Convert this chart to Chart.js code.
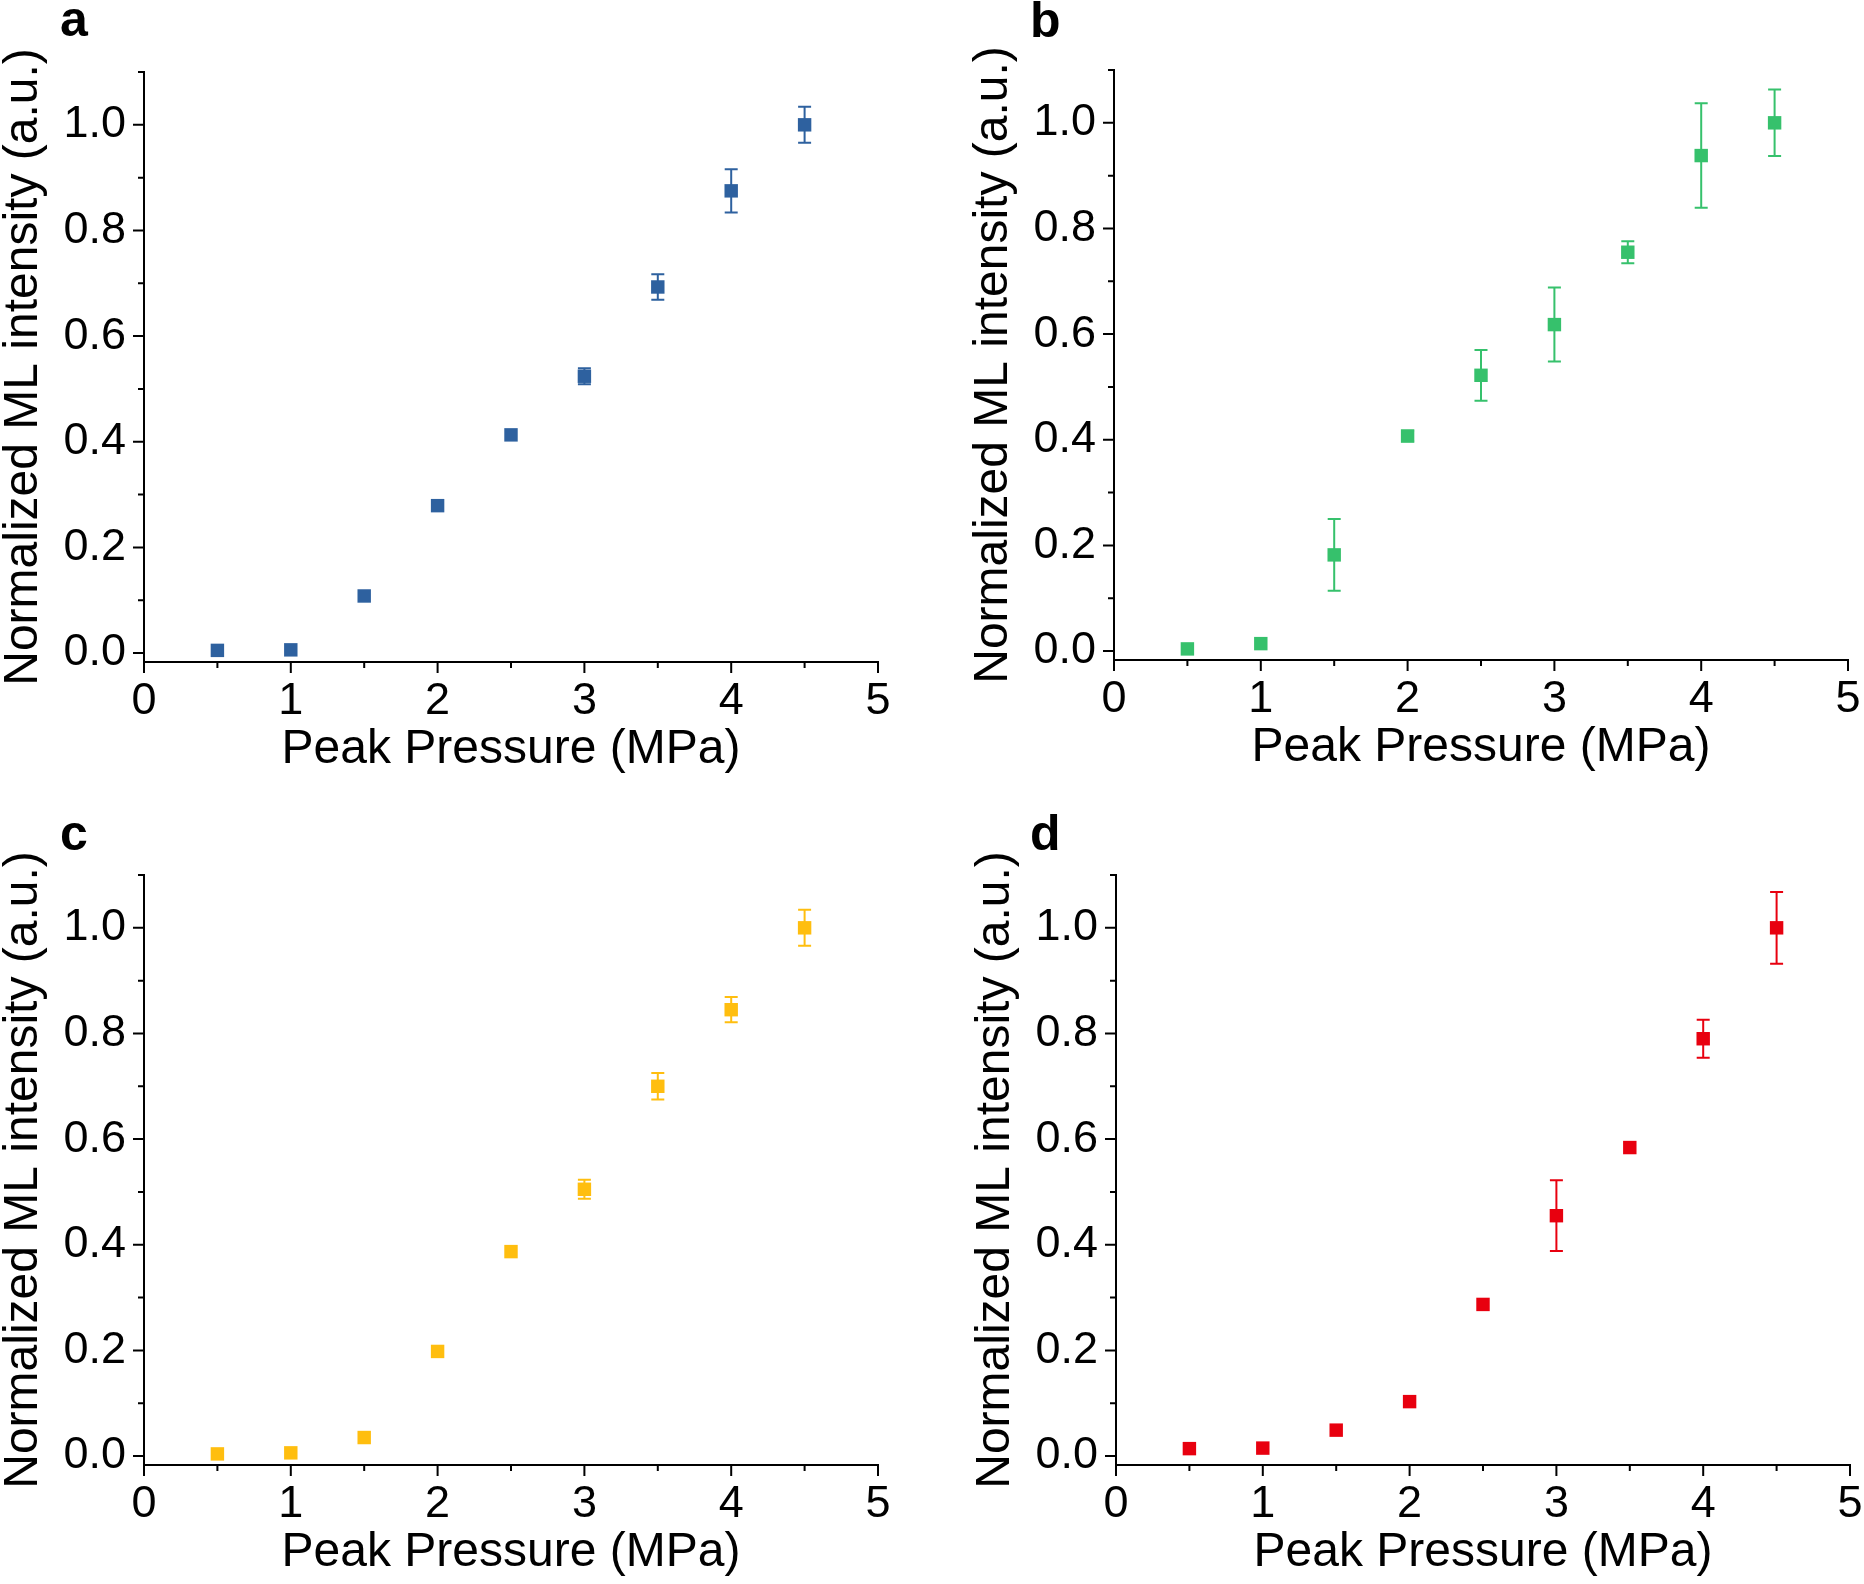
<!DOCTYPE html>
<html>
<head>
<meta charset="utf-8">
<script src="https://cdn.jsdelivr.net/npm/chart.js@4.4.1/dist/chart.umd.min.js"></script>
<style>
  html, body { margin: 0; padding: 0; background: #fff; overflow: hidden; }
  #fig { position: relative; width: 1864px; height: 1584px; overflow: hidden; }
  canvas { position: absolute; }
  .lbl { position: absolute; font: bold 50px "Liberation Sans", Arial, sans-serif; line-height: 50px; color: #000; }
</style>
</head>
<body>
<div id="fig">
  <canvas id="chartA" width="932" height="792" style="left:0px;top:0px"></canvas>
  <canvas id="chartB" width="932" height="792" style="left:970px;top:-2px"></canvas>
  <canvas id="chartC" width="932" height="792" style="left:0px;top:803px"></canvas>
  <canvas id="chartD" width="932" height="792" style="left:972px;top:803px"></canvas>
  <div class="lbl" style="left:60px;top:-6px">a</div>
  <div class="lbl" style="left:1030px;top:-5px">b</div>
  <div class="lbl" style="left:60px;top:808px">c</div>
  <div class="lbl" style="left:1030px;top:808px">d</div>
</div>
<script>
// peak pressure (MPa)
const pressure = [0.5, 1, 1.5, 2, 2.5, 3, 3.5, 4, 4.5];

// normalized ML intensity + error (half height of bar)
const intensityA = [0.005, 0.006, 0.108, 0.279, 0.413, 0.524, 0.693, 0.875, 1.0];
const errorA     = [0, 0, 0, 0, 0, 0.015, 0.024, 0.041, 0.034];
const intensityB = [0.004, 0.014, 0.182, 0.407, 0.522, 0.618, 0.755, 0.938, 1.0];
const errorB     = [0, 0, 0.068, 0.01, 0.048, 0.07, 0.021, 0.099, 0.063];
const intensityC = [0.004, 0.006, 0.035, 0.198, 0.387, 0.505, 0.70, 0.845, 1.0];
const errorC     = [0, 0, 0, 0, 0, 0.018, 0.025, 0.024, 0.034];
const intensityD = [0.014, 0.015, 0.049, 0.103, 0.287, 0.455, 0.584, 0.79, 1.0];
const errorD     = [0, 0, 0, 0, 0, 0.067, 0, 0.036, 0.068];

const xMajor = [0, 1, 2, 3, 4, 5];
const xMinor = [0.5, 1.5, 2.5, 3.5, 4.5];
const yMajor = [0, 0.2, 0.4, 0.6, 0.8, 1.0];
const yMinor = [0.1, 0.3, 0.5, 0.7, 0.9, 1.1];

const FONT = '"Liberation Sans", Arial, sans-serif';
Chart.defaults.font.family = FONT;
Chart.defaults.color = '#000';

// error bars, drawn under the markers
const errorBars = {
  id: 'errorBars',
  beforeDatasetsDraw(chart) {
    const ctx = chart.ctx;
    const x = chart.scales.x, y = chart.scales.y;
    chart.data.datasets.forEach(ds => {
      ctx.save();
      ctx.strokeStyle = ds.backgroundColor;
      ctx.lineWidth = 2;
      ds.data.forEach(p => {
        if (!p.err) return;
        const px = x.getPixelForValue(p.x);
        const top = y.getPixelForValue(p.y + p.err);
        const bot = y.getPixelForValue(p.y - p.err);
        ctx.beginPath();
        ctx.moveTo(px, top); ctx.lineTo(px, bot);
        ctx.moveTo(px - 6.5, top); ctx.lineTo(px + 6.5, top);
        ctx.moveTo(px - 6.5, bot); ctx.lineTo(px + 6.5, bot);
        ctx.stroke();
      });
      ctx.restore();
    });
  }
};

// outward tick marks, long for major and short for minor
const tickMarks = {
  id: 'tickMarks',
  afterDraw(chart) {
    const ctx = chart.ctx;
    const area = chart.chartArea;
    const x = chart.scales.x, y = chart.scales.y;
    ctx.save();
    ctx.strokeStyle = '#000';
    ctx.lineWidth = 2;
    ctx.beginPath();
    const xt = (v, len) => { const px = x.getPixelForValue(v); ctx.moveTo(px, area.bottom); ctx.lineTo(px, area.bottom + len); };
    const yt = (v, len) => { const py = y.getPixelForValue(v); ctx.moveTo(area.left, py); ctx.lineTo(area.left - len, py); };
    xMajor.forEach(v => xt(v, 11));
    xMinor.forEach(v => xt(v, 6));
    yMajor.forEach(v => yt(v, 11));
    yMinor.forEach(v => yt(v, 6));
    ctx.stroke();
    ctx.restore();
  }
};

function makePanel(id, values, errors, color) {
  const data = pressure.map((p, i) => ({ x: p, y: values[i], err: errors[i] }));
  new Chart(document.getElementById(id), {
    type: 'scatter',
    data: {
      datasets: [{
        data: data,
        backgroundColor: color,
        borderWidth: 0,
        pointStyle: 'rect',
        pointRadius: 9.5,
        pointHoverRadius: 9.5
      }]
    },
    options: {
      responsive: false,
      animation: false,
      devicePixelRatio: 1,
      layout: { padding: { left: 0, top: 72, right: 54, bottom: 0 } },
      plugins: { legend: { display: false }, tooltip: { enabled: false } },
      scales: {
        x: {
          type: 'linear',
          min: 0, max: 5,
          afterBuildTicks: s => { s.ticks = xMajor.map(v => ({ value: v })); },
          afterFit: s => { s.height = 130; },
          grid: { display: false, drawTicks: false },
          border: { display: true, color: '#000', width: 2 },
          ticks: { padding: 13, font: { size: 45, lineHeight: 1.2 }, color: '#000', maxRotation: 0 },
          title: { display: true, text: 'Peak Pressure (MPa)', font: { size: 48, lineHeight: 1.1 }, color: '#000', padding: { top: 0, bottom: 16 } }
        },
        y: {
          type: 'linear',
          min: -0.017, max: 1.1,
          afterBuildTicks: s => { s.ticks = yMajor.map(v => ({ value: v })); },
          afterFit: s => { s.width = 144; },
          grid: { display: false, drawTicks: false },
          border: { display: true, color: '#000', width: 2 },
          ticks: { padding: 18, font: { size: 45 }, color: '#000', callback: v => v.toFixed(1) },
          title: { display: true, text: 'Normalized ML intensity (a.u.)', font: { size: 48, lineHeight: 1.0 }, color: '#000', padding: 0 }
        }
      }
    },
    plugins: [errorBars, tickMarks]
  });
}

makePanel('chartA', intensityA, errorA, '#2E619F');
makePanel('chartB', intensityB, errorB, '#36C16C');
makePanel('chartC', intensityC, errorC, '#FFBE0F');
makePanel('chartD', intensityD, errorD, '#E8000F');
</script>
</body>
</html>
